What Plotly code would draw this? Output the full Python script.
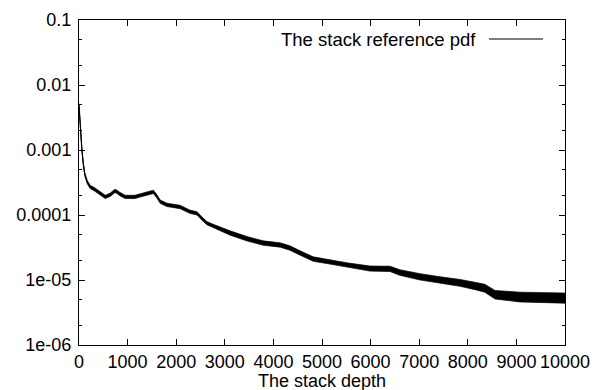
import plotly.graph_objects as go

# Values
depth = [0, 20, 40, 60, 90, 120, 170, 230, 330, 430, 540, 640, 700, 740, 790, 840, 950,
         1150, 1260, 1460, 1530, 1600, 1670, 1810, 2080, 2280, 2430, 2490, 2630,
         2760, 3110, 3460, 3790, 4140, 4340, 4550, 4820, 5160, 5510, 5990, 6400,
         6600, 7020, 7430, 7840, 8150, 8350, 8560, 9070, 10000]
pdf = [4.9e-3, 2.5e-3, 1.5e-3, 1.0e-3, 6.0e-4, 4.2e-4, 3.2e-4, 2.7e-4, 2.45e-4,
       2.15e-4, 1.9e-4, 2.05e-4, 2.25e-4, 2.35e-4, 2.25e-4, 2.1e-4, 1.9e-4, 1.9e-4, 2.0e-4, 2.2e-4,
       2.27e-4, 1.95e-4, 1.6e-4, 1.43e-4, 1.33e-4, 1.12e-4, 1.06e-4, 9.4e-5,
       7.5e-5, 6.8e-5, 5.3e-5, 4.3e-5, 3.7e-5, 3.45e-5, 3.1e-5, 2.6e-5, 2.1e-5,
       1.9e-5, 1.7e-5, 1.5e-5, 1.48e-5, 1.3e-5, 1.12e-5, 1.0e-5, 9.0e-6, 8.1e-6,
       7.5e-6, 6.0e-6, 5.5e-6, 5.3e-6]
pdf_high = [5.2e-3, 2.65e-3, 1.59e-3, 1.06e-3, 6.4e-4, 4.45e-4, 3.4e-4, 2.86e-4,
            2.6e-4, 2.28e-4, 2.01e-4, 2.17e-4, 2.39e-4, 2.49e-4, 2.39e-4, 2.23e-4, 2.01e-4, 2.01e-4,
            2.12e-4, 2.33e-4, 2.41e-4, 2.07e-4, 1.7e-4, 1.52e-4, 1.41e-4, 1.19e-4,
            1.12e-4, 1.0e-4, 7.95e-5, 7.2e-5, 5.7e-5, 4.65e-5, 4.0e-5, 3.73e-5,
            3.35e-5, 2.81e-5, 2.27e-5, 2.05e-5, 1.84e-5, 1.64e-5, 1.63e-5, 1.44e-5,
            1.25e-5, 1.12e-5, 1.02e-5, 9.2e-6, 8.6e-6, 6.9e-6, 6.5e-6, 6.3e-6]
pdf_low = [4.6e-3, 2.36e-3, 1.42e-3, 9.4e-4, 5.65e-4, 3.96e-4, 3.02e-4, 2.55e-4,
           2.31e-4, 2.03e-4, 1.79e-4, 1.93e-4, 2.12e-4, 2.21e-4, 2.12e-4, 1.98e-4, 1.79e-4, 1.79e-4,
           1.89e-4, 2.08e-4, 2.14e-4, 1.84e-4, 1.51e-4, 1.35e-4, 1.25e-4, 1.06e-4,
           1.0e-4, 8.9e-5, 7.1e-5, 6.4e-5, 4.9e-5, 3.98e-5, 3.43e-5, 3.2e-5,
           2.87e-5, 2.41e-5, 1.94e-5, 1.76e-5, 1.57e-5, 1.37e-5, 1.35e-5, 1.18e-5,
           1.0e-5, 8.9e-6, 8.0e-6, 7.1e-6, 6.5e-6, 5.1e-6, 4.6e-6, 4.4e-6]

x_ticks = [0, 1000, 2000, 3000, 4000, 5000, 6000, 7000, 8000, 9000, 10000]
y_ticks = [1e-6, 1e-5, 1e-4, 1e-3, 1e-2, 1e-1]
y_tick_text = ["1e-06", "1e-05", "0.0001", "0.001", "0.01", "0.1"]
y_minor = [2e-6, 5e-6, 2e-5, 5e-5, 2e-4, 5e-4, 2e-3, 5e-3, 2e-2, 5e-2]
series_name = "The stack reference pdf"
x_title = "The stack depth"

FONT = "Liberation Sans, Arial, Helvetica, sans-serif"

fig = go.Figure()
fig.add_trace(go.Scatter(x=depth, y=pdf_high, mode="lines",
                         line=dict(color="black", width=0.7),
                         showlegend=False, hoverinfo="skip"))
fig.add_trace(go.Scatter(x=depth, y=pdf_low, mode="lines",
                         line=dict(color="black", width=0.7),
                         fill="tonexty", fillcolor="black",
                         showlegend=False, hoverinfo="skip"))
fig.add_trace(go.Scatter(x=depth, y=pdf, mode="lines", name=series_name,
                         line=dict(color="black", width=1), showlegend=False))

axis_common = dict(
    showline=True, linecolor="black", linewidth=1, mirror="allticks",
    ticks="inside", ticklen=6, tickwidth=1, tickcolor="black",
    showgrid=False, zeroline=False, automargin=False,
    tickfont=dict(family=FONT, size=18, color="black"),
)

fig.update_xaxes(range=[0, 10000], tickvals=x_ticks,
                 ticktext=[str(v) for v in x_ticks],
                 **axis_common)
fig.update_yaxes(type="log", range=[-6, -1], tickvals=y_ticks, ticktext=y_tick_text,
                 ticklabelstandoff=3,
                 minor=dict(ticks="inside", ticklen=3, tickwidth=1, tickcolor="black",
                            tickvals=y_minor, showgrid=False),
                 **axis_common)

# x axis title
fig.add_annotation(xref="paper", yref="paper", x=0.5, y=-(380.5 - 345) / 325,
                   xanchor="center", yanchor="middle", showarrow=False,
                   text=x_title, font=dict(family=FONT, size=18, color="black"))

# legend (text followed by line sample, gnuplot style)
fig.add_annotation(xref="paper", yref="paper", x=(478 - 79) / 486, y=1 - (39 - 20) / 325,
                   xanchor="right", yanchor="middle", showarrow=False,
                   text=series_name, font=dict(family=FONT, size=18.5, color="black"))
fig.add_shape(type="line", xref="paper", yref="paper",
              x0=(489 - 79) / 486, x1=(543 - 79) / 486,
              y0=1 - (39 - 20) / 325, y1=1 - (39 - 20) / 325,
              line=dict(color="black", width=1))

fig.update_layout(
    width=592, height=390,
    margin=dict(l=79, r=27, t=20, b=45),
    paper_bgcolor="white", plot_bgcolor="white",
    font=dict(family=FONT, size=18, color="black"),
    showlegend=False,
)

fig.write_html("out.html")
